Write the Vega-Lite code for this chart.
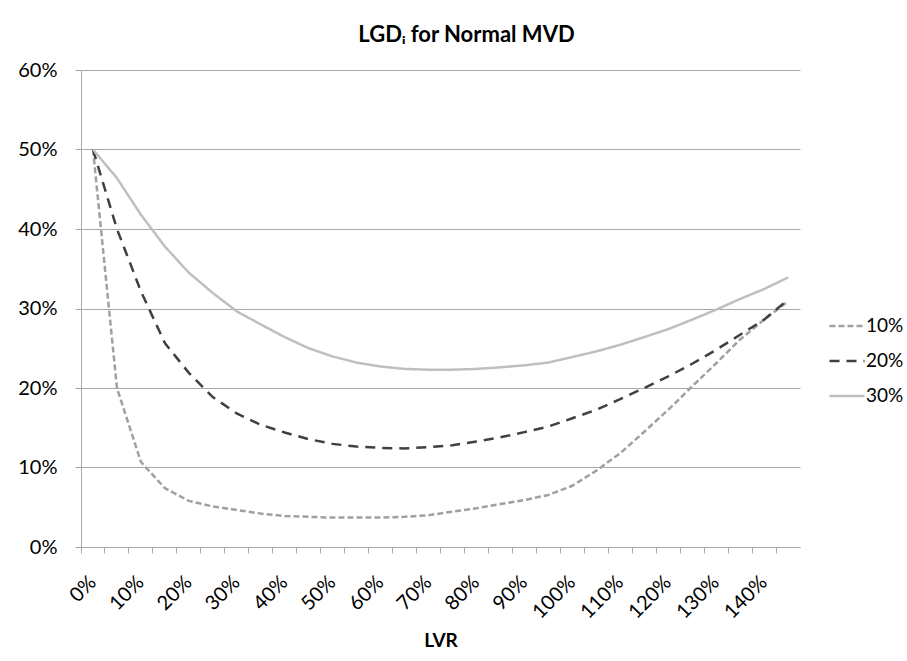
{
  "$schema": "https://vega.github.io/schema/vega-lite/v6.json",
  "autosize": {"type": "none"},
  "padding": {"left": 81, "top": 70, "right": 107, "bottom": 114},
  "width": 719,
  "height": 477,
  "background": "white",
  "config": {
    "font": "Lato",
    "view": {"stroke": null},
    "legend": {
      "orient": "none",
      "legendX": 747,
      "legendY": 237,
      "symbolType": "stroke",
      "symbolSize": 1225,
      "symbolStrokeWidth": 2.5,
      "labelFontSize": 19,
      "labelColor": "#000",
      "labelFont": "Lato",
      "rowPadding": 6,
      "labelOffset": 0,
      "padding": 0
    }
  },
  "title": {
    "text": "LGDᵢ for Normal MVD",
    "fontSize": 22,
    "fontWeight": "bold",
    "font": "Lato",
    "color": "#000",
    "offset": -4,
    "baseline": "alphabetic",
    "dx": 26,
    "anchor": "middle"
  },
  "data": {
    "values": [
      {"lvr": 0, "series": "10%", "lgd": 0.50},
      {"lvr": 5, "series": "10%", "lgd": 0.20},
      {"lvr": 10, "series": "10%", "lgd": 0.107},
      {"lvr": 15, "series": "10%", "lgd": 0.074},
      {"lvr": 20, "series": "10%", "lgd": 0.058},
      {"lvr": 25, "series": "10%", "lgd": 0.051},
      {"lvr": 30, "series": "10%", "lgd": 0.0466},
      {"lvr": 35, "series": "10%", "lgd": 0.042},
      {"lvr": 40, "series": "10%", "lgd": 0.039},
      {"lvr": 45, "series": "10%", "lgd": 0.038},
      {"lvr": 50, "series": "10%", "lgd": 0.037},
      {"lvr": 55, "series": "10%", "lgd": 0.037},
      {"lvr": 60, "series": "10%", "lgd": 0.037},
      {"lvr": 65, "series": "10%", "lgd": 0.038},
      {"lvr": 70, "series": "10%", "lgd": 0.040},
      {"lvr": 75, "series": "10%", "lgd": 0.0445},
      {"lvr": 80, "series": "10%", "lgd": 0.0487},
      {"lvr": 85, "series": "10%", "lgd": 0.054},
      {"lvr": 90, "series": "10%", "lgd": 0.059},
      {"lvr": 95, "series": "10%", "lgd": 0.0655},
      {"lvr": 100, "series": "10%", "lgd": 0.077},
      {"lvr": 105, "series": "10%", "lgd": 0.096},
      {"lvr": 110, "series": "10%", "lgd": 0.118},
      {"lvr": 115, "series": "10%", "lgd": 0.145},
      {"lvr": 120, "series": "10%", "lgd": 0.1725},
      {"lvr": 125, "series": "10%", "lgd": 0.202},
      {"lvr": 130, "series": "10%", "lgd": 0.231},
      {"lvr": 135, "series": "10%", "lgd": 0.261},
      {"lvr": 140, "series": "10%", "lgd": 0.286},
      {"lvr": 145, "series": "10%", "lgd": 0.309},
      {"lvr": 0, "series": "20%", "lgd": 0.50},
      {"lvr": 5, "series": "20%", "lgd": 0.40},
      {"lvr": 10, "series": "20%", "lgd": 0.3216},
      {"lvr": 15, "series": "20%", "lgd": 0.2565},
      {"lvr": 20, "series": "20%", "lgd": 0.219},
      {"lvr": 25, "series": "20%", "lgd": 0.1885},
      {"lvr": 30, "series": "20%", "lgd": 0.168},
      {"lvr": 35, "series": "20%", "lgd": 0.1537},
      {"lvr": 40, "series": "20%", "lgd": 0.144},
      {"lvr": 45, "series": "20%", "lgd": 0.1356},
      {"lvr": 50, "series": "20%", "lgd": 0.1297},
      {"lvr": 55, "series": "20%", "lgd": 0.1263},
      {"lvr": 60, "series": "20%", "lgd": 0.1247},
      {"lvr": 65, "series": "20%", "lgd": 0.124},
      {"lvr": 70, "series": "20%", "lgd": 0.1256},
      {"lvr": 75, "series": "20%", "lgd": 0.128},
      {"lvr": 80, "series": "20%", "lgd": 0.1327},
      {"lvr": 85, "series": "20%", "lgd": 0.138},
      {"lvr": 90, "series": "20%", "lgd": 0.1445},
      {"lvr": 95, "series": "20%", "lgd": 0.1515},
      {"lvr": 100, "series": "20%", "lgd": 0.162},
      {"lvr": 105, "series": "20%", "lgd": 0.1725},
      {"lvr": 110, "series": "20%", "lgd": 0.186},
      {"lvr": 115, "series": "20%", "lgd": 0.200},
      {"lvr": 120, "series": "20%", "lgd": 0.2145},
      {"lvr": 125, "series": "20%", "lgd": 0.2305},
      {"lvr": 130, "series": "20%", "lgd": 0.248},
      {"lvr": 135, "series": "20%", "lgd": 0.267},
      {"lvr": 140, "series": "20%", "lgd": 0.286},
      {"lvr": 145, "series": "20%", "lgd": 0.311},
      {"lvr": 0, "series": "30%", "lgd": 0.50},
      {"lvr": 5, "series": "30%", "lgd": 0.464},
      {"lvr": 10, "series": "30%", "lgd": 0.418},
      {"lvr": 15, "series": "30%", "lgd": 0.378},
      {"lvr": 20, "series": "30%", "lgd": 0.345},
      {"lvr": 25, "series": "30%", "lgd": 0.3195},
      {"lvr": 30, "series": "30%", "lgd": 0.2964},
      {"lvr": 35, "series": "30%", "lgd": 0.280},
      {"lvr": 40, "series": "30%", "lgd": 0.264},
      {"lvr": 45, "series": "30%", "lgd": 0.250},
      {"lvr": 50, "series": "30%", "lgd": 0.2397},
      {"lvr": 55, "series": "30%", "lgd": 0.232},
      {"lvr": 60, "series": "30%", "lgd": 0.227},
      {"lvr": 65, "series": "30%", "lgd": 0.224},
      {"lvr": 70, "series": "30%", "lgd": 0.223},
      {"lvr": 75, "series": "30%", "lgd": 0.223},
      {"lvr": 80, "series": "30%", "lgd": 0.224},
      {"lvr": 85, "series": "30%", "lgd": 0.226},
      {"lvr": 90, "series": "30%", "lgd": 0.2285},
      {"lvr": 95, "series": "30%", "lgd": 0.232},
      {"lvr": 100, "series": "30%", "lgd": 0.239},
      {"lvr": 105, "series": "30%", "lgd": 0.246},
      {"lvr": 110, "series": "30%", "lgd": 0.2544},
      {"lvr": 115, "series": "30%", "lgd": 0.264},
      {"lvr": 120, "series": "30%", "lgd": 0.274},
      {"lvr": 125, "series": "30%", "lgd": 0.286},
      {"lvr": 130, "series": "30%", "lgd": 0.2985},
      {"lvr": 135, "series": "30%", "lgd": 0.312},
      {"lvr": 140, "series": "30%", "lgd": 0.3245},
      {"lvr": 145, "series": "30%", "lgd": 0.339}
    ]
  },
  "mark": {"type": "line", "interpolate": "linear", "strokeWidth": 2.5, "strokeCap": "butt"},
  "encoding": {
    "x": {
      "field": "lvr",
      "type": "ordinal",
      "title": "LVR",
      "scale": {"type": "band", "paddingInner": 0, "paddingOuter": 0},
      "axis": {
        "bandPosition": 0,
        "labelExpr": "datum.value % 10 == 0 ? datum.value + '%' : ''",
        "labelAngle": -45,
        "labelAlign": "right",
        "labelBaseline": "middle",
        "labelOffset": 0,
        "labelPadding": 26,
        "labelFontSize": 20,
        "labelColor": "#000",
        "labelOverlap": false,
        "labelBound": false,
        "tickSize": 6,
        "tickColor": "#a8a8a8",
        "domainColor": "#a8a8a8",
        "grid": false,
        "titleFontSize": 19,
        "titleFontWeight": "bold",
        "titleColor": "#000",
        "titlePadding": 9
      }
    },
    "y": {
      "field": "lgd",
      "type": "quantitative",
      "scale": {"domain": [0, 0.6], "nice": false},
      "axis": {
        "values": [0, 0.1, 0.2, 0.3, 0.4, 0.5, 0.6],
        "format": ".0%",
        "title": null,
        "grid": true,
        "gridColor": "#a8a8a8",
        "domainColor": "#a8a8a8",
        "tickColor": "#a8a8a8",
        "tickSize": 6,
        "labelFontSize": 20,
        "labelColor": "#000",
        "labelPadding": 18
      }
    },
    "color": {
      "field": "series",
      "type": "nominal",
      "title": null,
      "scale": {"domain": ["10%", "20%", "30%"], "range": ["#a0a0a0", "#404040", "#bfbfbf"]}
    },
    "strokeDash": {
      "field": "series",
      "type": "nominal",
      "title": null,
      "scale": {"domain": ["10%", "20%", "30%"], "range": [[6, 3], [10, 7], [1, 0]]}
    }
  }
}
